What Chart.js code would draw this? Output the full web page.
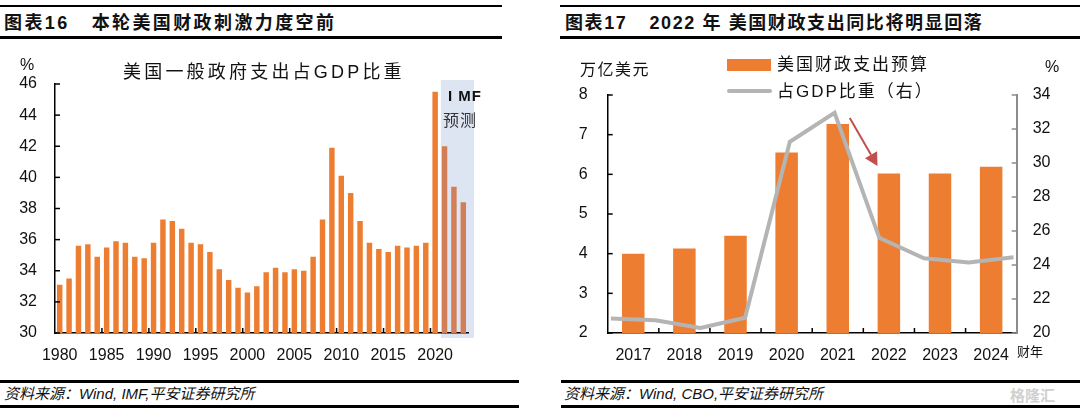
<!DOCTYPE html>
<html>
<head>
<meta charset="utf-8">
<script src="https://cdn.jsdelivr.net/npm/chart.js@4.4.1/dist/chart.umd.min.js"></script>
<style>
  html, body { margin:0; padding:0; background:#fff; }
  body { width:1080px; height:417px; position:relative; overflow:hidden;
         font-family:"Liberation Sans", Arial, "Noto Sans CJK SC", sans-serif; color:#111; }
  .abs { position:absolute; white-space:nowrap; }
  .line { position:absolute; background:#000; }
  canvas { position:absolute; top:0; }
</style>
</head>
<body>
<!-- header lines -->
<div class="line" style="left:0;top:5px;width:502px;height:2px"></div>
<div class="line" style="left:0;top:36px;width:502px;height:3px"></div>
<div class="line" style="left:560px;top:5px;width:520px;height:2px"></div>
<div class="line" style="left:560px;top:36px;width:520px;height:3px"></div>
<div class="abs" style="left:4px;top:11px;font-size:18px;font-weight:bold;letter-spacing:2.4px;line-height:24px">图表16<span style="display:inline-block;width:22px"></span>本轮美国财政刺激力度空前</div>
<div class="abs" style="left:565px;top:11px;font-size:18px;font-weight:bold;letter-spacing:1.6px;line-height:24px">图表17<span style="display:inline-block;width:22px"></span>2022 年 美国财政支出同比将明显回落</div>

<!-- footer -->
<div class="line" style="left:0;top:380px;width:519px;height:2.5px"></div>
<div class="line" style="left:0;top:405px;width:519px;height:2.5px"></div>
<div class="line" style="left:561px;top:380px;width:519px;height:2.5px"></div>
<div class="line" style="left:561px;top:405px;width:519px;height:2.5px"></div>
<div class="abs" style="left:4px;top:384px;font-size:15px;font-style:italic;line-height:20px">资料来源：Wind, IMF,平安证券研究所</div>
<div class="abs" style="left:564px;top:384px;font-size:15px;font-style:italic;line-height:20px">资料来源：Wind, CBO,平安证券研究所</div>
<div class="abs" style="left:1010px;top:386px;font-size:15px;color:#d0d0d0;font-weight:bold;line-height:20px">格隆汇</div>

<canvas id="c1" width="520" height="380" style="left:0;width:520px;height:380px"></canvas>
<canvas id="c2" width="540" height="380" style="left:540px;width:540px;height:380px"></canvas>

<!-- left chart texts -->
<div class="abs" style="left:20px;top:56px;font-size:16px;line-height:18px">%</div>
<div class="abs" style="left:123px;top:61px;font-size:18px;letter-spacing:3.2px;line-height:22px">美国一般政府支出占GDP比重</div>
<div class="abs" style="left:448px;top:87px;font-size:15px;font-weight:bold;letter-spacing:1px;line-height:18px">I MF</div>
<div class="abs" style="left:443px;top:111px;font-size:16px;letter-spacing:1px;line-height:20px;color:#333">预测</div>

<!-- right chart texts -->
<div class="abs" style="left:580px;top:60px;font-size:16px;letter-spacing:1.5px;line-height:20px">万亿美元</div>
<div class="abs" style="left:1045px;top:58px;font-size:16px;line-height:18px">%</div>
<div class="abs" style="left:1017px;top:343px;font-size:13px;line-height:18px">财年</div>
<div class="abs" style="left:727px;top:59px;width:44px;height:12px;background:#ED7D31"></div>
<div class="abs" style="left:777px;top:54px;font-size:17px;letter-spacing:2px;line-height:22px">美国财政支出预算</div>
<div class="abs" style="left:727px;top:89px;width:45px;height:4px;border-radius:2px;background:#B4B4B4"></div>
<div class="abs" style="left:777px;top:81px;font-size:17px;letter-spacing:2px;line-height:22px">占GDP比重（右）</div>

<script>
// ---------------- DATA ----------------
// Chart 16: US general government expenditure, % of GDP (IMF forecast from 2021)
const years16 = ['1980','1981','1982','1983','1984','1985','1986','1987','1988','1989',
                 '1990','1991','1992','1993','1994','1995','1996','1997','1998','1999',
                 '2000','2001','2002','2003','2004','2005','2006','2007','2008','2009',
                 '2010','2011','2012','2013','2014','2015','2016','2017','2018','2019',
                 '2020','2021','2022','2023'];
const spendShare16 = [33.1, 33.5, 35.6, 35.7, 34.9, 35.5, 35.9, 35.8, 34.9, 34.8,
                      35.8, 37.3, 37.2, 36.7, 35.8, 35.7, 35.2, 34.1, 33.4, 32.9,
                      32.6, 33.0, 33.9, 34.2, 33.9, 34.1, 34.0, 34.9, 37.3, 41.9,
                      40.1, 39.0, 37.2, 35.8, 35.4, 35.2, 35.6, 35.5, 35.6, 35.8,
                      45.5, 42.0, 39.4, 38.4];
const firstForecastYear16 = '2021';
const yTicks16 = { min: 30, max: 46, step: 2 };
const labelEvery16 = 5;

// Chart 17: US federal outlays (trillion USD) and share of GDP (%)
const years17 = ['2017','2018','2019','2020','2021','2022','2023','2024'];
const outlays17 = [4.0, 4.13, 4.45, 6.55, 7.27, 6.02, 6.02, 6.19];
// share of GDP, incl. the half-visible edge years 2016 and 2025
const shareYears17 = [2016, 2017, 2018, 2019, 2020, 2021, 2022, 2023, 2024, 2025];
const shareOfGdp17 = [20.85, 20.75, 20.3, 20.9, 31.25, 32.95, 25.6, 24.4, 24.15, 24.45];
const yLeftTicks17 = { min: 2, max: 8, step: 1 };
const yRightTicks17 = { min: 20, max: 34, step: 2 };

// ---------------- STYLE ----------------
const ORANGE = '#ED7D31';
const ORANGE_FC = '#D27F58';
const SHADE = '#DCE5F1';
const GREY = '#B4B4B4';
Chart.defaults.font.family = '"Liberation Sans", Arial, "Noto Sans CJK SC", sans-serif';
Chart.defaults.font.size = 16;
Chart.defaults.color = '#111';
Chart.defaults.animation = false;

const inwardTicks = {
  id: 'inwardTicks',
  afterDraw(chart, args, opts) {
    const ctx = chart.ctx, a = chart.chartArea;
    ctx.save();
    (opts.y || []).forEach(cfg => {
      const s = chart.scales[cfg.id];
      ctx.strokeStyle = cfg.color; ctx.lineWidth = cfg.width;
      s.ticks.forEach((t, i) => {
        const py = s.getPixelForTick(i);
        const x0 = cfg.side === 'left' ? a.left : a.right;
        const dir = cfg.side === 'left' ? 1 : -1;
        ctx.beginPath(); ctx.moveTo(x0, py); ctx.lineTo(x0 + dir * cfg.len, py); ctx.stroke();
      });
    });
    if (opts.x) {
      const s = chart.scales[opts.x.id];
      const n = chart.data.labels.length;
      ctx.strokeStyle = opts.x.color; ctx.lineWidth = opts.x.width;
      for (let i = opts.x.every; i < n; i += opts.x.every) {
        const px = (s.getPixelForValue(i - 1) + s.getPixelForValue(i)) / 2;
        ctx.beginPath(); ctx.moveTo(px, a.bottom); ctx.lineTo(px, a.bottom - opts.x.len); ctx.stroke();
      }
    }
    ctx.restore();
  }
};

// forecast shading, drawn before scales so axis lines are on top
const forecastShade = {
  id: 'forecastShade',
  beforeDraw(chart, args, opts) {
    const s = chart.scales.x, a = chart.chartArea;
    const i = chart.data.labels.indexOf(opts.from);
    const x0 = (s.getPixelForValue(i - 1) + s.getPixelForValue(i)) / 2 + 1;
    const ctx = chart.ctx;
    ctx.save();
    ctx.fillStyle = opts.color;
    ctx.fillRect(x0, a.top - 4, a.right + 6 - x0, a.bottom - a.top + 9);
    ctx.restore();
  }
};

const arrowPlugin = {
  id: 'arrow',
  afterDatasetsDraw(chart, args, opts) {
    const xs = chart.scales.x2, ys = chart.scales.y;
    const x1 = xs.getPixelForValue(opts.from[0]), y1 = ys.getPixelForValue(opts.from[1]);
    const x2 = xs.getPixelForValue(opts.to[0]), y2 = ys.getPixelForValue(opts.to[1]);
    const ctx = chart.ctx;
    const ang = Math.atan2(y2 - y1, x2 - x1);
    const L = 13, W = 7;
    const bx = x2 - L * Math.cos(ang), by = y2 - L * Math.sin(ang);
    ctx.save();
    ctx.strokeStyle = opts.color; ctx.fillStyle = opts.color; ctx.lineWidth = 2;
    ctx.beginPath(); ctx.moveTo(x1, y1); ctx.lineTo(bx, by); ctx.stroke();
    ctx.beginPath();
    ctx.moveTo(x2, y2);
    ctx.lineTo(bx + W * Math.sin(ang), by - W * Math.cos(ang));
    ctx.lineTo(bx - W * Math.sin(ang), by + W * Math.cos(ang));
    ctx.closePath(); ctx.fill();
    ctx.restore();
  }
};

// ---------------- CHART 16 ----------------
const fcIndex = years16.indexOf(firstForecastYear16);
new Chart(document.getElementById('c1'), {
  type: 'bar',
  data: {
    labels: years16,
    datasets: [{
      data: spendShare16,
      backgroundColor: years16.map((y, i) => i >= fcIndex ? ORANGE_FC : ORANGE),
      barPercentage: 0.58, categoryPercentage: 1.0
    }]
  },
  options: {
    responsive: false,
    layout: { padding: { top: 84, right: 52, left: 0, bottom: 0 } },
    plugins: {
      legend: { display: false }, tooltip: { enabled: false },
      inwardTicks: {
        y: [{ id: 'y', side: 'left', len: 5, color: '#000', width: 1.5 }],
        x: { id: 'x', every: labelEvery16, len: 5, color: '#000', width: 1.5 }
      },
      forecastShade: { from: firstForecastYear16, color: SHADE }
    },
    scales: {
      x: {
        offset: true,
        grid: { display: false, drawTicks: false },
        border: { display: true, color: '#000', width: 1.5 },
        ticks: { autoSkip: false, maxRotation: 0, padding: 13,
                 callback: (v, i) => i % labelEvery16 === 0 ? years16[i] : '' },
        afterFit: s => { s.height = 47; }
      },
      y: {
        min: yTicks16.min, max: yTicks16.max,
        grid: { display: false, drawTicks: false },
        border: { display: true, color: '#000', width: 1.5 },
        ticks: { stepSize: yTicks16.step, padding: 18 },
        afterFit: s => { s.width = 55; }
      }
    }
  },
  plugins: [forecastShade, inwardTicks]
});

// ---------------- CHART 17 ----------------
const base17 = Number(years17[0]);
new Chart(document.getElementById('c2'), {
  type: 'bar',
  data: {
    labels: years17,
    datasets: [
      {
        type: 'bar', label: '美国财政支出预算',
        data: outlays17, xAxisID: 'x', yAxisID: 'y',
        backgroundColor: ORANGE, barPercentage: 0.44, categoryPercentage: 1.0,
        grouped: false, order: 1
      },
      {
        type: 'line', label: '占GDP比重（右）',
        data: shareYears17.map((yr, i) => ({ x: yr - base17, y: shareOfGdp17[i] })),
        xAxisID: 'x2', yAxisID: 'y2',
        borderColor: GREY, borderWidth: 4, pointRadius: 0, tension: 0,
        order: 0, clip: 0
      }
    ]
  },
  options: {
    responsive: false,
    layout: { padding: { top: 95, right: 0, left: 0, bottom: 0 } },
    plugins: {
      legend: { display: false }, tooltip: { enabled: false },
      inwardTicks: {
        y: [{ id: 'y', side: 'left', len: 5, color: '#000', width: 1.5 },
            { id: 'y2', side: 'right', len: 5, color: '#8C8C8C', width: 1.5 }],
        x: { id: 'x', every: 1, len: 5, color: '#000', width: 1.5 }
      },
      arrow: { from: [4.34, 7.42], to: [4.96, 6.21], color: '#C0504D' }
    },
    scales: {
      x: {
        offset: true,
        grid: { display: false, drawTicks: false },
        border: { display: true, color: '#000', width: 1.5 },
        ticks: { autoSkip: false, maxRotation: 0, padding: 13 },
        afterFit: s => { s.height = 47; }
      },
      x2: { type: 'linear', display: false, min: -0.5, max: 7.5 },
      y: {
        position: 'left', min: yLeftTicks17.min, max: yLeftTicks17.max,
        grid: { display: false, drawTicks: false },
        border: { display: true, color: '#000', width: 1.5 },
        ticks: { stepSize: yLeftTicks17.step, padding: 20 },
        afterFit: s => { s.width = 67.7; }
      },
      y2: {
        position: 'right', min: yRightTicks17.min, max: yRightTicks17.max,
        grid: { display: false, drawTicks: false },
        border: { display: true, color: '#8C8C8C', width: 2 },
        ticks: { stepSize: yRightTicks17.step, padding: 16 },
        afterFit: s => { s.width = 63.3; }
      }
    }
  },
  plugins: [inwardTicks, arrowPlugin]
});
</script>
</body>
</html>
